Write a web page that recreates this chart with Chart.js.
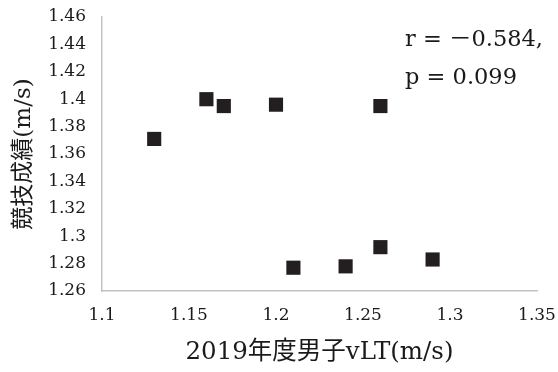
<!DOCTYPE html>
<html lang="ja">
<head>
<meta charset="utf-8">
<title>2019年度男子vLTと競技成績</title>
<script src="https://cdn.jsdelivr.net/npm/chart.js@4/dist/chart.umd.min.js"></script>
<style>
  html, body { margin: 0; padding: 0; background: #ffffff; }
  #wrap { width: 558px; height: 372px; position: relative; }
</style>
</head>
<body>
<div id="wrap"><canvas id="c" width="558" height="372"></canvas></div>
<script>
// Athletes' vLT (m/s) and race performance (m/s)
const vltValues = [1.13, 1.16, 1.17, 1.20, 1.26, 1.21, 1.24, 1.26, 1.29];
const performanceValues = [1.371, 1.400, 1.395, 1.396, 1.395, 1.277, 1.278, 1.292, 1.283];

// Axis tick labels
const xTickLabels = ['1.1', '1.15', '1.2', '1.25', '1.3', '1.35'];
const yTickLabels = ['1.26', '1.28', '1.3', '1.32', '1.34', '1.36', '1.38', '1.4', '1.42', '1.44', '1.46'];

// Axis titles and correlation note
const xTitle = '2019年度男子vLT(m/s)';
const yTitle = '競技成績(m/s)';
const statLines = ['r = －0.584,', 'p = 0.099'];

const SERIF = "'DejaVu Serif', 'Noto Sans CJK JP', serif";
const INK = '#231f20';
const TEXT = '#1a1a1a';
const AXIS = '#c4c4c4';

function labelFor(list, value) {
  const hit = list.find(t => Math.abs(parseFloat(t) - value) < 1e-6);
  return hit === undefined ? '' : hit;
}

const points = vltValues.map((x, i) => ({ x: x, y: performanceValues[i] }));

// Writes the r / p values in the upper right of the plot area
const statNote = {
  id: 'statNote',
  afterDraw(chart) {
    const { ctx, chartArea } = chart;
    ctx.save();
    ctx.fillStyle = TEXT;
    ctx.font = "22.5px " + SERIF;
    ctx.textAlign = 'left';
    ctx.textBaseline = 'alphabetic';
    const x0 = chartArea.right - 132;
    ctx.fillText(statLines[0], x0, chartArea.top + 29);
    ctx.fillText(statLines[1], x0, chartArea.top + 67);
    ctx.restore();
  }
};

new Chart(document.getElementById('c'), {
  type: 'scatter',
  data: {
    datasets: [{
      data: points,
      pointStyle: 'rect',
      pointRadius: 10,
      pointBackgroundColor: INK,
      pointBorderWidth: 0,
      pointBorderColor: INK
    }]
  },
  options: {
    responsive: false,
    animation: false,
    events: [],
    layout: { autoPadding: false, padding: { top: 17, right: 21, left: 0, bottom: 0 } },
    plugins: {
      legend: { display: false },
      tooltip: { enabled: false }
    },
    scales: {
      x: {
        type: 'linear',
        min: 1.1,
        max: 1.35,
        afterFit(scale) {
          scale.height = 81;
          scale.paddingLeft = 0;
          scale.paddingRight = 0;
        },
        grid: { display: false, drawTicks: false },
        border: { display: true, color: AXIS, width: 1.5 },
        ticks: {
          stepSize: 0.05,
          padding: 14,
          color: TEXT,
          font: { family: SERIF, size: 17 },
          maxRotation: 0,
          autoSkip: false,
          callback: v => labelFor(xTickLabels, v)
        },
        title: {
          display: true,
          text: xTitle,
          color: TEXT,
          font: { family: SERIF, size: 24.5 },
          padding: { top: 0, bottom: 5 }
        }
      },
      y: {
        type: 'linear',
        min: 1.26,
        max: 1.46,
        afterFit(scale) {
          scale.width = 102;
          scale.paddingTop = 0;
          scale.paddingBottom = 0;
        },
        grid: { display: false, drawTicks: false },
        border: { display: true, color: AXIS, width: 1.5 },
        ticks: {
          stepSize: 0.02,
          padding: 16,
          color: TEXT,
          font: { family: SERIF, size: 17 },
          autoSkip: false,
          callback: v => labelFor(yTickLabels, v)
        },
        title: {
          display: true,
          text: yTitle,
          color: TEXT,
          font: { family: SERIF, size: 23 },
          padding: { top: 10, bottom: 0 }
        }
      }
    }
  },
  plugins: [statNote]
});
</script>
</body>
</html>
